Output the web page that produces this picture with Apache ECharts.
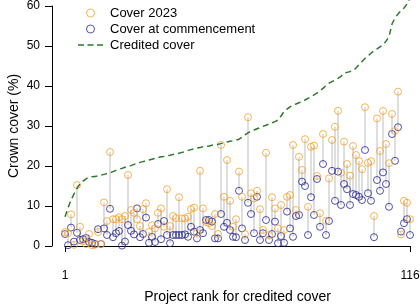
<!DOCTYPE html>
<html><head><meta charset="utf-8">
<script src="https://cdn.jsdelivr.net/npm/echarts@6/dist/echarts.min.js"></script>
<style>html,body{margin:0;padding:0;background:#fff}#c{width:420px;height:305px}</style>
</head><body><div id="c"></div>
<script>
const ranks = Array.from({length:116},(_,i)=>i+1);
const cover2023 = [3.5,3.2,7.9,0.3,15.25,4.8,1.2,0.5,3,0.2,0.3,3.5,0.5,10.9,6.25,23.5,6.7,6.7,7.2,6.7,
7.5,17.75,9,8.3,6.7,5,9.2,10.7,3.5,5.2,4.4,8.3,9.4,4.8,14.2,5,7.5,7.0,12.2,6.9,
6.9,7.3,9.25,9.6,3.3,18.8,9.4,6.0,5.7,5,8,3,25.25,12.3,21.5,11.3,4.8,6.7,18.6,12.3,
3,32.2,13.2,11.9,13.8,9.2,4,23.3,2.75,12.2,9.4,4.4,10.25,4,12.3,12.75,25.25,9,22.3,19,
26.7,9.8,24.8,25.1,17.5,8.2,28,6.3,16.9,26.5,29.8,33.8,18.3,26.1,20.5,17.6,25,22.75,21.25,19.2,
34.7,20.8,21.2,7.5,31.9,23.75,33.75,25.5,20.7,33,28.75,38.6,2.9,11.3,10.8,6.7];
const coverStart = [3.0,0.2,4.6,1.1,3.3,1.5,1.7,2.0,1.0,0.8,0.5,4.2,0.5,4.4,2.75,9.3,2.2,3.2,3.75,0.1,
1.1,5.25,3.8,2.9,9.4,2.2,3,7.1,0.8,2.3,1,5.5,1.7,6.25,2.75,0.7,2.75,2.75,2.75,2.75,
2.9,2.3,4.8,3.6,1.9,4,3.2,6.5,6.5,6.1,1.9,1.9,8,4.8,5.8,4,2.3,2.2,13.8,4.4,
1.5,10.8,8,3.2,12.3,1.5,3.2,6.5,1.5,3,6.1,0.7,2.5,0.8,8.6,4.4,2.3,7.5,7.75,16.1,
15,2.75,12.2,7.75,16.75,4.8,20.5,2.75,6.25,18.8,11.3,18.6,10.25,15.5,14.2,10.25,13,12.75,12.3,11.5,
24,13.2,11.3,2.2,16.5,13.8,18.4,15.5,9.8,28,21.3,29.7,3.6,5.7,6.7,2.75];
const credited = [7.3,9.5,11.5,13,14.4,15.5,16.2,16.8,17.2,17.3,17.4,17.5,17.7,17.9,18.1,18.3,18.6,18.9,19.2,19.4,
19.7,19.9,20.1,20.4,20.6,20.9,21.1,21.3,21.5,21.7,21.9,22.1,22.3,22.4,22.6,22.7,22.9,23.0,23.2,23.4,
23.6,23.9,24.1,24.3,24.5,24.6,24.8,24.9,25.0,25.2,25.3,25.4,25.6,25.8,26.0,26.2,26.3,26.5,26.7,27.2,
27.8,28.3,28.7,29.0,29.3,29.6,29.9,30.2,30.5,30.8,31.1,31.5,32.5,33.6,34.2,34.8,35.2,35.5,35.8,36.2,
36.5,36.9,37.3,37.8,38.2,38.8,39.4,40.1,40.7,41.1,41.5,41.9,42.4,43.2,43.4,43.6,43.8,44.5,45.3,46.1,
46.9,47.5,48.2,48.9,49.3,49.8,50.3,51.2,52.3,55.5,57.0,58.0,58.8,59.5,60.5,62];
const xTicks = [1,116];
const yTicks = [0,10,20,30,40,50,60];

const ORANGE='#F5A02A', BLUE='#25258F', GREEN='#2A7A2A', GREY='#BDBDBD';
const FONT='Liberation Sans';
const dashIcon='path://M0,0h6v1.6h-6zM9.5,0h6v1.6h-6zM19,0h6v1.6h-6z';
const chart = echarts.init(document.getElementById('c'), null, {renderer:'canvas'});
chart.setOption({
  animation:false,
  textStyle:{fontFamily:FONT},
  grid:{left:65,right:10,top:6,bottom:59,containLabel:false,outerBoundsMode:'none'},
  legend:{
    left:73, top:0, orient:'vertical', itemWidth:25, itemHeight:8, itemGap:0,
    textStyle:{fontFamily:FONT,fontSize:13,color:'#000',lineHeight:16,padding:[0,0,0,2]},
    data:[
      {name:'Cover 2023',icon:'circle',itemStyle:{color:'rgba(0,0,0,0)',borderColor:ORANGE,borderWidth:1}},
      {name:'Cover at commencement',icon:'circle',itemStyle:{color:'rgba(0,0,0,0)',borderColor:BLUE,borderWidth:1}},
      {name:'Credited cover',icon:dashIcon,itemStyle:{color:GREEN,borderWidth:0}}
    ]
  },
  xAxis:{
    type:'value', min:xTicks[0], max:xTicks[1], offset:12,
    axisLine:{show:true,lineStyle:{color:'#000',width:1}},
    axisTick:{show:true,length:6,customValues:xTicks,lineStyle:{color:'#000'}},
    axisLabel:{customValues:xTicks,margin:12,fontSize:12,color:'#000',fontFamily:FONT},
    splitLine:{show:false},
    name:'Project rank for credited cover', nameLocation:'middle', nameGap:32,
    nameTextStyle:{fontSize:14,color:'#000',fontFamily:FONT}
  },
  yAxis:{
    type:'value', min:yTicks[0], max:yTicks[yTicks.length-1], interval:10, offset:13,
    axisLine:{show:true,lineStyle:{color:'#000',width:1}},
    axisTick:{show:true,length:7,lineStyle:{color:'#000'}},
    axisLabel:{margin:12,fontSize:12,color:'#000',fontFamily:FONT},
    splitLine:{show:false},
    name:'Crown cover (%)', nameLocation:'middle', nameGap:31, nameMoveOverlap:false,
    nameTextStyle:{fontSize:14,color:'#000',fontFamily:FONT}
  },
  series:[
    {type:'custom', name:'seg', silent:true, clip:false,
     data: ranks.map((r,i)=>[r,cover2023[i],coverStart[i]]),
     renderItem:(params,api)=>{
       const p1=api.coord([api.value(0),api.value(1)]);
       const p2=api.coord([api.value(0),api.value(2)]);
       return {type:'line',shape:{x1:p1[0],y1:p1[1],x2:p2[0],y2:p2[1]},style:{stroke:GREY,lineWidth:1}};
     }, z:1},
    {type:'scatter', name:'Cover at commencement', symbol:'circle', symbolSize:7, clip:false,
     data: ranks.map((r,i)=>[r,coverStart[i]]),
     itemStyle:{color:'rgba(0,0,0,0)',borderColor:BLUE,borderWidth:1}, z:2},
    {type:'scatter', name:'Cover 2023', symbol:'circle', symbolSize:7, clip:false,
     data: ranks.map((r,i)=>[r,cover2023[i]]),
     itemStyle:{color:'rgba(0,0,0,0)',borderColor:ORANGE,borderWidth:1}, z:3},
    {type:'line', name:'Credited cover', showSymbol:false, symbol:'none', clip:false,
     data: ranks.map((r,i)=>[r,credited[i]]),
     lineStyle:{color:GREEN,width:1.5,type:[6,4]}, itemStyle:{color:GREEN}, z:4}
  ]
});
</script></body></html>
